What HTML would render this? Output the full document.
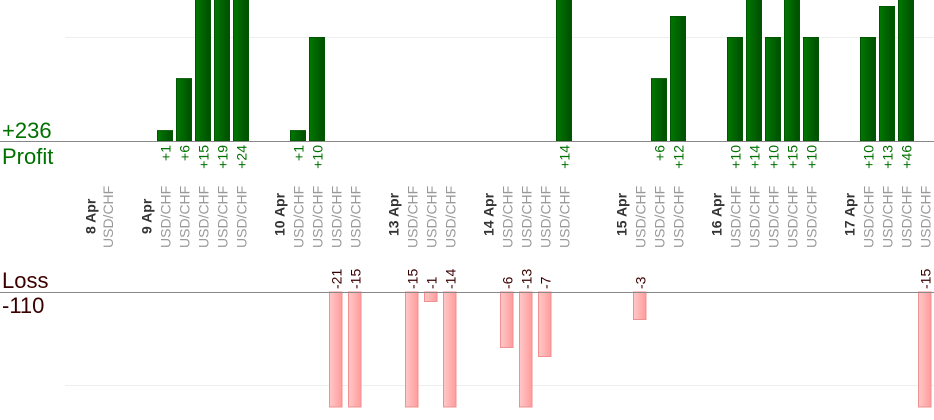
<!DOCTYPE html>
<html><head><meta charset="utf-8"><style>
html,body{margin:0;padding:0;background:#fff;}
svg{display:block;font-family:"Liberation Sans",sans-serif;}
.v{font-size:14px;fill:#007000;}
.l{font-size:14px;fill:#3a0000;}
.u{font-size:14px;fill:#999;}
.d{font-size:14px;fill:#333;font-weight:bold;}
.p{fill:url(#g);stroke:#005500;stroke-width:1;}
.n{fill:url(#r);stroke:#f09090;stroke-width:1;}
</style></head><body>
<svg width="934" height="420" viewBox="0 0 934 420">
<defs>
<linearGradient id="g" x1="0" x2="1"><stop offset="0" stop-color="#007800"/><stop offset="1" stop-color="#004e00"/></linearGradient>
<linearGradient id="r" x1="0" x2="1"><stop offset="0" stop-color="#ffc8c8"/><stop offset="1" stop-color="#ff9c9c"/></linearGradient>
</defs>
<line x1="65" y1="37.5" x2="934" y2="37.5" stroke="#eee"/>
<line x1="65" y1="385.5" x2="934" y2="385.5" stroke="#eee"/>

<rect class="p" x="157.5" y="130.6" width="15" height="10.4"/>
<rect class="p" x="176.5" y="78.6" width="15" height="62.4"/>
<rect class="p" x="195.5" y="-5" width="15" height="146"/>
<rect class="p" x="214.5" y="-5" width="15" height="146"/>
<rect class="p" x="233.5" y="-5" width="15" height="146"/>
<rect class="p" x="290.5" y="130.6" width="15" height="10.4"/>
<rect class="p" x="309.5" y="37.5" width="15" height="103.5"/>
<rect class="p" x="556.5" y="-5" width="15" height="146"/>
<rect class="p" x="651.5" y="78.6" width="15" height="62.4"/>
<rect class="p" x="670.5" y="16.5" width="15" height="124.5"/>
<rect class="p" x="727.5" y="37.5" width="15" height="103.5"/>
<rect class="p" x="746.5" y="-5" width="15" height="146"/>
<rect class="p" x="765.5" y="37.5" width="15" height="103.5"/>
<rect class="p" x="784.5" y="-5" width="15" height="146"/>
<rect class="p" x="803.5" y="37.5" width="15" height="103.5"/>
<rect class="p" x="860.5" y="37.5" width="15" height="103.5"/>
<rect class="p" x="879.5" y="6.5" width="15" height="134.5"/>
<rect class="p" x="898.5" y="-5" width="15" height="146"/>

<rect class="n" x="329.5" y="292" width="12.5" height="115"/>
<rect class="n" x="348.5" y="292" width="12.5" height="115"/>
<rect class="n" x="405.5" y="292" width="12.5" height="115"/>
<rect class="n" x="424.5" y="292" width="12.5" height="9.5"/>
<rect class="n" x="443.5" y="292" width="12.5" height="115"/>
<rect class="n" x="500.5" y="292" width="12.5" height="55.5"/>
<rect class="n" x="519.5" y="292" width="12.5" height="115"/>
<rect class="n" x="538.5" y="292" width="12.5" height="64.5"/>
<rect class="n" x="633.5" y="292" width="12.5" height="27.5"/>
<rect class="n" x="918.5" y="292" width="12.5" height="115"/>

<line x1="0" y1="141.5" x2="934" y2="141.5" stroke="#888"/>
<line x1="0" y1="292.5" x2="934" y2="292.5" stroke="#888"/>

<text x="2" y="138" font-size="22" fill="#007000">+236</text>
<text x="2" y="164" font-size="22" fill="#007000">Profit</text>
<text x="2" y="288" font-size="22" fill="#3a0000">Loss</text>
<text x="2" y="313" font-size="22" fill="#3a0000">-110</text>

<g class="v" text-anchor="end">
<text transform="translate(170.5,145) rotate(-90)">+1</text>
<text transform="translate(189.5,145) rotate(-90)">+6</text>
<text transform="translate(208.5,145) rotate(-90)">+15</text>
<text transform="translate(227.5,145) rotate(-90)">+19</text>
<text transform="translate(246.5,145) rotate(-90)">+24</text>
<text transform="translate(303.5,145) rotate(-90)">+1</text>
<text transform="translate(322.5,145) rotate(-90)">+10</text>
<text transform="translate(569.5,145) rotate(-90)">+14</text>
<text transform="translate(664.5,145) rotate(-90)">+6</text>
<text transform="translate(683.5,145) rotate(-90)">+12</text>
<text transform="translate(740.5,145) rotate(-90)">+10</text>
<text transform="translate(759.5,145) rotate(-90)">+14</text>
<text transform="translate(778.5,145) rotate(-90)">+10</text>
<text transform="translate(797.5,145) rotate(-90)">+15</text>
<text transform="translate(816.5,145) rotate(-90)">+10</text>
<text transform="translate(873.5,145) rotate(-90)">+10</text>
<text transform="translate(892.5,145) rotate(-90)">+13</text>
<text transform="translate(911.5,145) rotate(-90)">+46</text>
</g>

<g class="l">
<text transform="translate(341.5,289) rotate(-90)">-21</text>
<text transform="translate(360.5,289) rotate(-90)">-15</text>
<text transform="translate(417.5,289) rotate(-90)">-15</text>
<text transform="translate(436.5,289) rotate(-90)">-1</text>
<text transform="translate(455.5,289) rotate(-90)">-14</text>
<text transform="translate(512.5,289) rotate(-90)">-6</text>
<text transform="translate(531.5,289) rotate(-90)">-13</text>
<text transform="translate(550.5,289) rotate(-90)">-7</text>
<text transform="translate(645.5,289) rotate(-90)">-3</text>
<text transform="translate(930.5,289) rotate(-90)">-15</text>
</g>

<g class="d">
<text transform="translate(95.5,234) rotate(-90)">8 Apr</text>
<text transform="translate(151.5,234) rotate(-90)">9 Apr</text>
<text transform="translate(284.5,236) rotate(-90)">10 Apr</text>
<text transform="translate(398.5,236) rotate(-90)">13 Apr</text>
<text transform="translate(493.5,236) rotate(-90)">14 Apr</text>
<text transform="translate(626.5,236) rotate(-90)">15 Apr</text>
<text transform="translate(721.5,236) rotate(-90)">16 Apr</text>
<text transform="translate(854.5,236) rotate(-90)">17 Apr</text>
</g>

<g class="u">
<text transform="translate(113,248) rotate(-90)">USD/CHF</text>
<text transform="translate(170.5,248) rotate(-90)">USD/CHF</text>
<text transform="translate(189.5,248) rotate(-90)">USD/CHF</text>
<text transform="translate(208.5,248) rotate(-90)">USD/CHF</text>
<text transform="translate(227.5,248) rotate(-90)">USD/CHF</text>
<text transform="translate(246.5,248) rotate(-90)">USD/CHF</text>
<text transform="translate(303.5,248) rotate(-90)">USD/CHF</text>
<text transform="translate(322.5,248) rotate(-90)">USD/CHF</text>
<text transform="translate(341.5,248) rotate(-90)">USD/CHF</text>
<text transform="translate(360.5,248) rotate(-90)">USD/CHF</text>
<text transform="translate(417.5,248) rotate(-90)">USD/CHF</text>
<text transform="translate(436.5,248) rotate(-90)">USD/CHF</text>
<text transform="translate(455.5,248) rotate(-90)">USD/CHF</text>
<text transform="translate(512.5,248) rotate(-90)">USD/CHF</text>
<text transform="translate(531.5,248) rotate(-90)">USD/CHF</text>
<text transform="translate(550.5,248) rotate(-90)">USD/CHF</text>
<text transform="translate(569.5,248) rotate(-90)">USD/CHF</text>
<text transform="translate(645.5,248) rotate(-90)">USD/CHF</text>
<text transform="translate(664.5,248) rotate(-90)">USD/CHF</text>
<text transform="translate(683.5,248) rotate(-90)">USD/CHF</text>
<text transform="translate(740.5,248) rotate(-90)">USD/CHF</text>
<text transform="translate(759.5,248) rotate(-90)">USD/CHF</text>
<text transform="translate(778.5,248) rotate(-90)">USD/CHF</text>
<text transform="translate(797.5,248) rotate(-90)">USD/CHF</text>
<text transform="translate(816.5,248) rotate(-90)">USD/CHF</text>
<text transform="translate(873.5,248) rotate(-90)">USD/CHF</text>
<text transform="translate(892.5,248) rotate(-90)">USD/CHF</text>
<text transform="translate(911.5,248) rotate(-90)">USD/CHF</text>
<text transform="translate(930.5,248) rotate(-90)">USD/CHF</text>
</g>
</svg>
</body></html>
